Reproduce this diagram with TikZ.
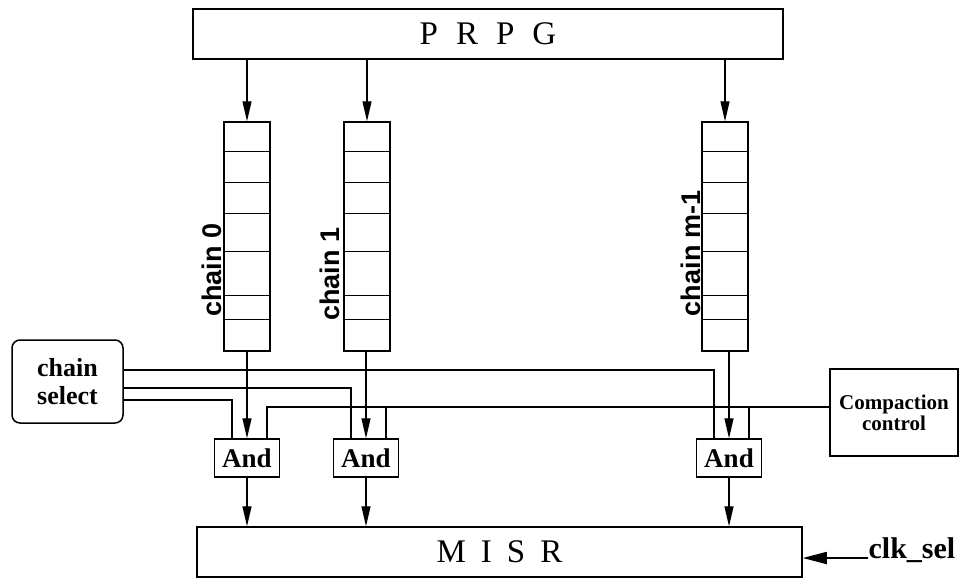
\documentclass[tikz,border=0pt]{standalone}
\usepackage{fontspec}
\setmainfont{Liberation Serif}
\newfontfamily\chainfont{Liberation Sans}
\usetikzlibrary{arrows.meta, positioning, calc}

\begin{document}
\begin{tikzpicture}[x=1pt, y=-1pt, >={Triangle[length=20pt,width=9pt]}, line width=1.2pt,
    box/.style={draw, line width=1.5pt, inner sep=0pt, align=center},
    reg/.style={box, minimum width=46pt, minimum height=229pt},
    gate/.style={box, minimum width=65pt, minimum height=38pt, font=\fontsize{27}{27}\selectfont\bfseries},
    chainlbl/.style={rotate=90, inner sep=0pt, font=\fontsize{27}{27}\selectfont\chainfont\bfseries}]
  \useasboundingbox (0,0) rectangle (960,579);

  % generator, registers and compactor
  \node[box, minimum width=590pt, minimum height=50pt, font=\fontsize{33}{33}\selectfont] (prpg) at (488,34)
    {P\hspace{18pt}R\hspace{18pt}P\hspace{18pt}G};
  \node[reg] (c0) at (247,236.5) {};
  \node[reg] (c1) at (367,236.5) {};
  \node[reg] (cm) at (725,236.5) {};
  \node[chainlbl] at (212,270) {chain 0};
  \node[chainlbl] at (330,274) {chain 1};
  \node[chainlbl] at (691,253) {chain m-1};
  \foreach \c in {c0,c1,cm}
    \foreach \d in {30,61,92,130,174,198}
      \draw[line width=1.5pt] ($(\c.north west)+(0,\d)$) -- ++(46,0);

  \node[gate] (a0) at (247,458) {And};
  \node[gate] (a1) at (366,458) {And};
  \node[gate] (am) at (729,458) {And};
  \node[box, minimum width=605pt, minimum height=50pt, font=\fontsize{33}{33}\selectfont] (misr) at (499.5,552)
    {M\hspace{15pt}I\hspace{15pt}S\hspace{15pt}R};

  \node[box, rounded corners=8pt, minimum width=111pt, minimum height=83pt,
        font=\fontsize{26}{28}\selectfont\bfseries] (cs) at (67.5,381.5) {chain\\select};
  \node[box, minimum width=128pt, minimum height=87pt,
        font=\fontsize{21}{21}\selectfont\bfseries] (cc) at (894,412.5) {Compaction\\control};
  \node[anchor=base west, inner sep=0pt, font=\fontsize{30}{30}\selectfont\bfseries] (clk) at (868,558) {clk\_sel};

  % gate inputs
  \foreach \g in {a0,a1,am} {
    \coordinate (\g-l) at ([xshift=-15pt]\g.north);
    \coordinate (\g-r) at ([xshift=20pt]\g.north);
  }
  \coordinate (ctl) at ([yshift=5.5pt]cc.west);

  \foreach \c/\g in {c0/a0, c1/a1, cm/am} {
    \draw[->] (prpg.south -| \c.north) -- (\c.north);
    \draw[->] (\c.south -| \g.north) -- (\g.north);
    \draw[->] (\g.south) -- (\g.south |- misr.north);
  }

  \draw ([yshift=11.5pt]cs.east) -| (am-l);
  \draw ([yshift=-6.5pt]cs.east) -| (a1-l);
  \draw ([yshift=-18.5pt]cs.east) -| (a0-l);
  \draw (ctl) -| (a0-r);
  \draw (ctl -| a1-r) -- (a1-r);
  \draw (ctl -| am-r) -- (am-r);

  \draw[->, line width=1.8pt, >={Triangle[length=24pt,width=12pt]}] (clk.base west) -- (clk.base west -| misr.east);
\end{tikzpicture}
\end{document}
